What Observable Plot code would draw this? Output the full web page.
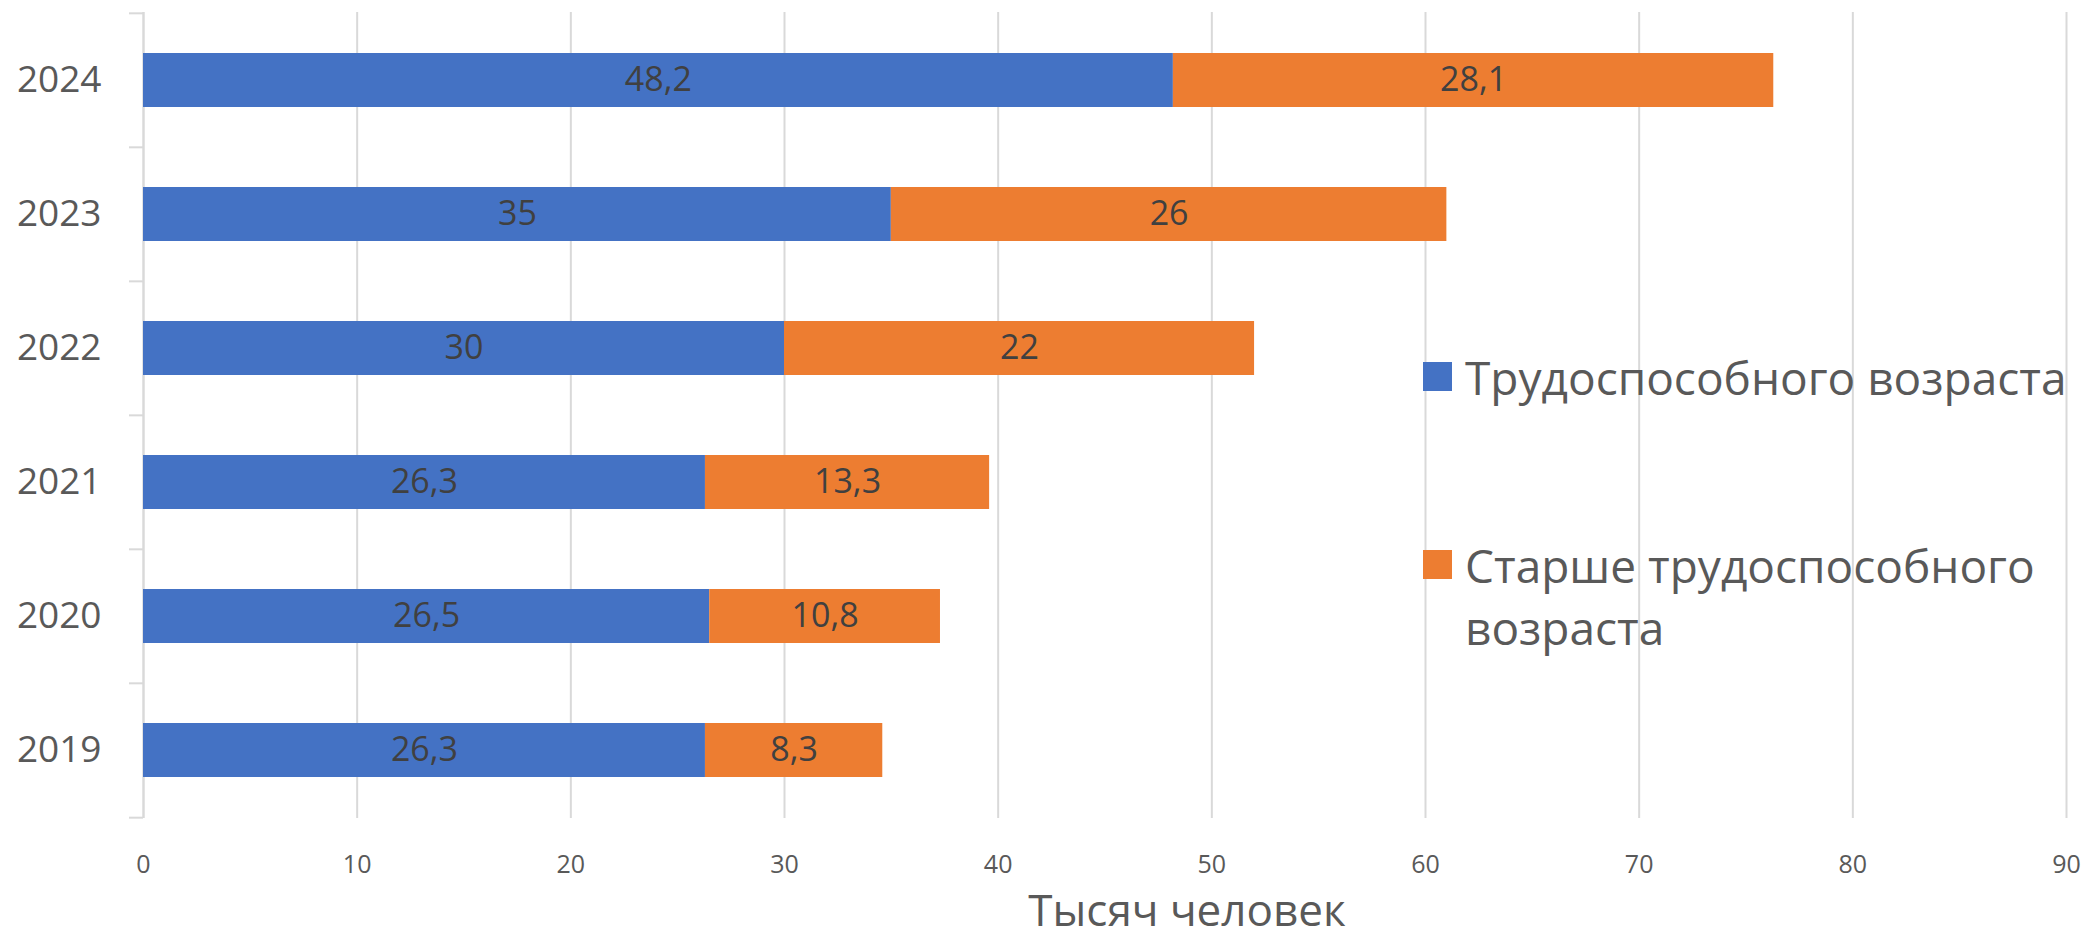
<!DOCTYPE html>
<html>
<head>
<meta charset="utf-8">
<script src="https://cdn.jsdelivr.net/npm/d3@7"></script>
<script src="https://cdn.jsdelivr.net/npm/@observablehq/plot@0.6"></script>
<style>
  html, body { margin: 0; padding: 0; background: #fff; }
  #wrap { position: relative; width: 2085px; height: 939px; font-family: "Open Sans", sans-serif; color: #595959; }
  #legend { position: absolute; left: 1423px; top: 0; }
  .item { position: absolute; left: 0; white-space: nowrap; font-size: 46px; line-height: 62px; }
  .sw { position: absolute; left: 0; width: 29px; height: 29px; }
  .lbl { position: absolute; left: 42px; }
</style>
</head>
<body>
<div id="wrap"></div>
<script>
const years = ["2019", "2020", "2021", "2022", "2023", "2024"];
const seriesNames = ["Трудоспособного возраста", "Старше трудоспособного возраста"];
const working = [26.3, 26.5, 26.3, 30, 35, 48.2];
const older = [8.3, 10.8, 13.3, 22, 26, 28.1];
const colors = ["#4472C4", "#ED7D31"];
const xTicks = [0, 10, 20, 30, 40, 50, 60, 70, 80, 90];
const xTitle = "Тысяч человек";

const data = [];
years.forEach((y, i) => {
  data.push({year: y, series: seriesNames[0], value: working[i]});
  data.push({year: y, series: seriesNames[1], value: older[i]});
});

const W = 2085, H = 939;
const mT = 12, mB = 121, mL = 143, mR = 19;
const step = (H - mT - mB) / years.length;
const fmt = v => String(v).replace(".", ",");
const tickLen = 14 / ((W - mL - mR) / 90);

const chart = Plot.plot({
  width: W, height: H,
  marginTop: mT, marginBottom: mB, marginLeft: mL, marginRight: mR,
  style: {fontFamily: "'Open Sans', sans-serif", color: "#595959", background: "white"},
  x: {domain: [0, 90], ticks: xTicks},
  y: {domain: years.slice().reverse(), paddingInner: 0.6, paddingOuter: 0.3, align: 0.5},
  color: {domain: seriesNames, range: colors},
  marks: [
    Plot.gridX(xTicks, {stroke: "#d9d9d9", strokeOpacity: 1, strokeWidth: 2}),
    Plot.ruleX([0], {stroke: "#d9d9d9", strokeWidth: 2}),
    Plot.ruleY(years, {y: d => d, x1: -tickLen, x2: 0, dy: -step / 2, stroke: "#d9d9d9", strokeWidth: 2}),
    Plot.ruleY([years[0]], {y: d => d, x1: -tickLen, x2: 0, dy: step / 2, stroke: "#d9d9d9", strokeWidth: 2}),
    Plot.barX(data, {x: "value", y: "year", fill: "series", order: seriesNames}),
    Plot.text(data, Plot.stackX({x: "value", y: "year", z: "series", order: seriesNames, text: d => fmt(d.value), fill: "#404040", fontSize: 34})),
    Plot.axisX(xTicks, {tickSize: 0, tickPadding: 37, fontSize: 25, label: null, fill: "#595959"}),
    Plot.axisY({tickSize: 0, tickPadding: 42, fontSize: 37, label: null, fill: "#595959"}),
    Plot.text([xTitle], {frameAnchor: "bottom", dx: 82, dy: 93, fontSize: 44, fill: "#595959", lineAnchor: "middle"})
  ]
});

const wrap = document.getElementById("wrap");
wrap.appendChild(chart);

const legend = document.createElement("div");
legend.id = "legend";
const items = [
  {name: "Трудоспособного возраста", color: colors[0], top: 346, swTop: 362},
  {name: "Старше трудоспособного<br>возраста", color: colors[1], top: 534, swTop: 550}
];
items.forEach(it => {
  const sw = document.createElement("div");
  sw.className = "sw";
  sw.style.top = it.swTop + "px";
  sw.style.background = it.color;
  legend.appendChild(sw);
  const lb = document.createElement("div");
  lb.className = "item lbl";
  lb.style.top = it.top + "px";
  lb.innerHTML = it.name;
  legend.appendChild(lb);
});
wrap.appendChild(legend);
</script>
</body>
</html>
